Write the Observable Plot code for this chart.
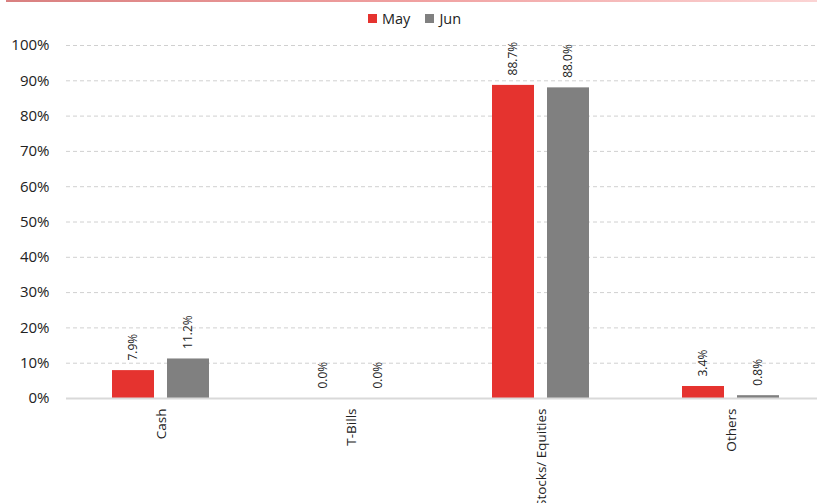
<!DOCTYPE html>
<html>
<head>
<meta charset="utf-8">
<script src="https://cdn.jsdelivr.net/npm/d3@7"></script>
<script src="https://cdn.jsdelivr.net/npm/@observablehq/plot@0.6"></script>
<style>
  html, body { margin: 0; padding: 0; background: #fff; overflow: hidden; width: 817px; height: 503px; }
  body { font-family: "Open Sans", sans-serif; color: #222; position: relative; }
  #topline { position: absolute; left: 6px; top: 0; width: 811px; height: 2px;
    background: linear-gradient(to right, #d98080, #f0a0a0 50%, #fbd4d4); }
  #legend { height: 30px; display: flex; align-items: center; padding-left: 368px; font-size: 14.5px; color: #222; padding-top: 6px; box-sizing: border-box; }
  .sw { display: inline-block; width: 9px; height: 9px; margin-right: 5px; }
  .item { display: flex; align-items: center; margin-right: 15px; }
  #chart svg { overflow: visible; }
</style>
</head>
<body>
<div id="topline"></div>
<div id="legend"></div>
<div id="chart"></div>
<script>
const categories = ["Cash", "T-Bills", "Stocks/ Equities", "Others"];
const series = ["May", "Jun"];
const mayValues = [7.9, 0.0, 88.7, 3.4];
const junValues = [11.2, 0.0, 88.0, 0.8];
const yTicks = [0, 10, 20, 30, 40, 50, 60, 70, 80, 90, 100];
const colors = ["#e5332f", "#808080"];

const data = [];
categories.forEach((c, i) => {
  data.push({category: c, series: "May", value: mayValues[i]});
  data.push({category: c, series: "Jun", value: junValues[i]});
});

const legend = document.getElementById("legend");
series.forEach((s, i) => {
  const it = document.createElement("span");
  it.className = "item";
  it.innerHTML = `<span class="sw" style="background:${colors[i]}"></span>${s}`;
  legend.appendChild(it);
});

const chart = Plot.plot({
  width: 817,
  height: 478,
  marginLeft: 66,
  marginRight: -9,
  marginTop: 15,
  marginBottom: 110,
  style: {fontFamily: "'Open Sans', sans-serif", color: "#222", background: "transparent"},
  fx: {domain: categories, padding: 0, label: null},
  x: {domain: series, axis: null, paddingInner: 0.236, paddingOuter: 0.845},
  y: {domain: [0, 100], label: null},
  color: {domain: series, range: colors},
  marks: [
    Plot.gridY(yTicks.filter(d => d > 0), {stroke: "#d0d0d0", strokeOpacity: 1, strokeDasharray: "4,3"}),
    Plot.axisY(yTicks, {tickSize: 0, tickPadding: 17, tickFormat: d => d + "%", fontSize: 15, label: null}),
    Plot.axisFx({anchor: "bottom", tickSize: 0, tickPadding: 10, tickRotate: -90, fontSize: 13.5, label: null}),
    Plot.barY(data, {fx: "category", x: "series", y: "value", fill: "series"}),
    Plot.ruleY([0], {stroke: "#d9d9d9", strokeWidth: 2}),
    Plot.text(data, {fx: "category", x: "series", y: "value", text: d => d.value.toFixed(1) + "%",
      rotate: -90, textAnchor: "start", dy: -10, fontSize: 12, fill: "#222"})
  ]
});
document.getElementById("chart").appendChild(chart);
</script>
</body>
</html>
